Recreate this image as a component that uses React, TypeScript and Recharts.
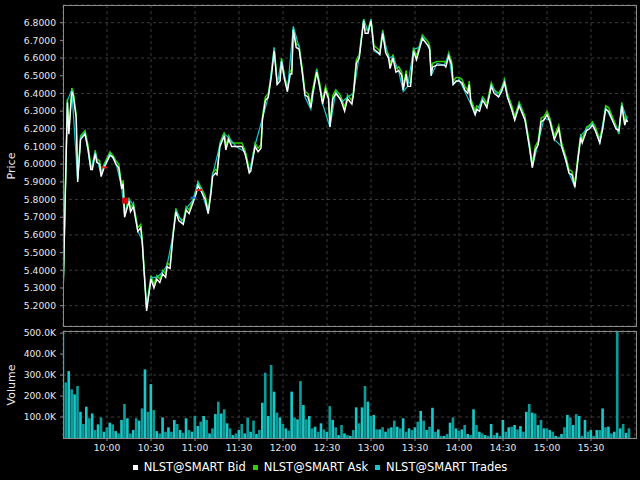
import React from "react";
import {
  ComposedChart,
  Line,
  XAxis,
  YAxis,
  CartesianGrid,
  BarChart,
  Bar,
  Cell,
  ReferenceDot,
} from "recharts";

// minutes after the 9:30 open
const quoteMinutes = [
  0, 3, 4, 6, 7, 9, 10, 12, 15, 17,
  19, 20, 22, 23, 25, 26, 28, 32, 34, 36,
  38, 40, 41, 42, 45, 46, 48, 51, 53, 54,
  57, 60, 62, 64, 66, 68, 70, 71, 73, 75,
  77, 79, 82, 84, 86, 89, 91, 92, 94, 97,
  99, 101, 102, 104, 105, 107, 110, 111, 113, 115,
  118, 122, 124, 125, 127, 128, 131, 133, 135, 136,
  138, 140, 142, 144, 146, 148, 149, 151, 153, 155,
  156, 157, 159, 161, 163, 165, 167, 169, 170, 173,
  175, 177, 179, 181, 182, 184, 186, 189, 190, 192,
  194, 197, 198, 200, 202, 203, 205, 206, 208, 210,
  211, 212, 215, 216, 218, 220, 222, 223, 225, 227,
  229, 231, 232, 234, 235, 237, 239, 241, 243, 245,
  247, 249, 250, 251, 252, 255, 258, 260, 261, 263,
  265, 266, 268, 270, 272, 274, 276, 277, 278, 281,
  282, 284, 286, 287, 289, 292, 294, 297, 299, 301,
  303, 306, 308, 311, 314, 315, 318, 320, 322, 324,
  326, 328, 330, 332, 335, 338, 340, 343, 345, 347,
  349, 351, 353, 354, 357, 359, 361, 363, 366, 368,
  370, 372, 375, 377, 379, 381, 383, 384, 385,
];

const bidPrices = [
  5.25, 6.35, 6.17, 6.41, 6.39, 6.26, 5.90, 6.14, 6.17, 6.09,
  5.97, 5.97, 6.06, 6.01, 6.00, 5.93, 5.98, 6.05, 6.04, 6.00,
  5.98, 5.86, 5.89, 5.70, 5.79, 5.73, 5.76, 5.62, 5.64, 5.56,
  5.17, 5.35, 5.30, 5.35, 5.33, 5.38, 5.36, 5.42, 5.41, 5.59,
  5.73, 5.68, 5.66, 5.74, 5.72, 5.79, 5.84, 5.88, 5.85, 5.80,
  5.72, 5.84, 5.93, 5.95, 5.94, 6.10, 6.16, 6.08, 6.14, 6.10,
  6.10, 6.10, 6.06, 6.03, 5.95, 5.96, 6.10, 6.07, 6.09, 6.25,
  6.36, 6.38, 6.49, 6.64, 6.45, 6.47, 6.58, 6.48, 6.41, 6.51,
  6.51, 6.76, 6.66, 6.65, 6.53, 6.39, 6.38, 6.32, 6.39, 6.52,
  6.44, 6.34, 6.42, 6.37, 6.21, 6.37, 6.40, 6.37, 6.35, 6.30,
  6.37, 6.34, 6.39, 6.57, 6.60, 6.67, 6.81, 6.74, 6.74, 6.81,
  6.73, 6.65, 6.63, 6.62, 6.74, 6.63, 6.60, 6.54, 6.60, 6.52,
  6.53, 6.50, 6.42, 6.51, 6.44, 6.44, 6.64, 6.59, 6.65, 6.71,
  6.69, 6.67, 6.65, 6.50, 6.55, 6.56, 6.56, 6.56, 6.55, 6.61,
  6.56, 6.45, 6.47, 6.47, 6.46, 6.42, 6.40, 6.45, 6.35, 6.28,
  6.31, 6.30, 6.36, 6.35, 6.32, 6.44, 6.40, 6.38, 6.41, 6.46,
  6.38, 6.31, 6.25, 6.33, 6.27, 6.25, 6.10, 5.98, 6.08, 6.11,
  6.24, 6.25, 6.28, 6.24, 6.14, 6.20, 6.10, 6.02, 5.95, 5.94,
  5.87, 6.02, 6.15, 6.12, 6.19, 6.20, 6.22, 6.19, 6.12, 6.20,
  6.31, 6.30, 6.24, 6.20, 6.19, 6.33, 6.22, 6.25, 6.24,
];

const askPrices = [
  5.26, 6.37, 6.19, 6.43, 6.41, 6.28, 5.92, 6.16, 6.19, 6.11,
  5.99, 5.98, 6.08, 6.03, 6.02, 5.95, 6.00, 6.07, 6.05, 6.02,
  6.00, 5.88, 5.91, 5.72, 5.81, 5.75, 5.78, 5.64, 5.66, 5.58,
  5.19, 5.37, 5.32, 5.37, 5.35, 5.40, 5.38, 5.44, 5.43, 5.61,
  5.75, 5.70, 5.68, 5.76, 5.74, 5.81, 5.86, 5.90, 5.87, 5.82,
  5.74, 5.86, 5.95, 5.97, 5.96, 6.12, 6.18, 6.10, 6.16, 6.12,
  6.12, 6.12, 6.08, 6.05, 5.97, 5.98, 6.12, 6.09, 6.11, 6.27,
  6.38, 6.40, 6.51, 6.66, 6.47, 6.49, 6.60, 6.50, 6.43, 6.53,
  6.53, 6.77, 6.68, 6.67, 6.55, 6.41, 6.40, 6.34, 6.41, 6.54,
  6.46, 6.36, 6.44, 6.39, 6.23, 6.39, 6.42, 6.39, 6.37, 6.32,
  6.39, 6.36, 6.41, 6.59, 6.62, 6.69, 6.82, 6.76, 6.76, 6.82,
  6.75, 6.67, 6.65, 6.64, 6.76, 6.65, 6.62, 6.56, 6.62, 6.54,
  6.55, 6.52, 6.44, 6.53, 6.46, 6.46, 6.66, 6.61, 6.67, 6.73,
  6.71, 6.69, 6.67, 6.52, 6.57, 6.58, 6.58, 6.58, 6.57, 6.63,
  6.58, 6.47, 6.49, 6.49, 6.48, 6.44, 6.42, 6.47, 6.37, 6.30,
  6.33, 6.32, 6.38, 6.37, 6.34, 6.46, 6.42, 6.40, 6.43, 6.48,
  6.40, 6.33, 6.27, 6.35, 6.29, 6.27, 6.12, 6.00, 6.10, 6.13,
  6.26, 6.27, 6.30, 6.26, 6.16, 6.22, 6.12, 6.04, 5.97, 5.96,
  5.89, 6.04, 6.17, 6.14, 6.21, 6.22, 6.24, 6.21, 6.14, 6.22,
  6.33, 6.32, 6.26, 6.22, 6.17, 6.35, 6.24, 6.27, 6.26,
];

const tradeMinutes = [
  0, 3, 6, 10, 12, 15, 19, 22, 26, 28,
  32, 36, 40, 42, 45, 48, 51, 54, 57, 60,
  64, 68, 71, 75, 77, 82, 84, 89, 92, 94,
  99, 102, 107, 110, 113, 118, 124, 127, 131, 136,
  140, 144, 146, 149, 153, 157, 161, 165, 169, 173,
  177, 182, 186, 190, 194, 198, 202, 205, 208, 210,
  212, 216, 218, 222, 225, 229, 232, 235, 239, 243,
  245, 250, 251, 255, 260, 263, 266, 270, 274, 278,
  281, 286, 289, 292, 297, 301, 303, 308, 311, 315,
  320, 324, 328, 332, 335, 340, 345, 349, 353, 357,
  361, 366, 370, 375, 379, 381, 385,
];

const tradePrices = [
  5.25, 6.36, 6.42, 5.91, 6.15, 6.18, 5.97, 6.07, 5.94, 5.99,
  6.06, 6.01, 5.87, 5.71, 5.80, 5.77, 5.62, 5.57, 5.18, 5.36,
  5.36, 5.39, 5.43, 5.60, 5.74, 5.66, 5.75, 5.80, 5.90, 5.86,
  5.72, 5.94, 6.11, 6.17, 6.15, 6.10, 6.07, 5.95, 6.11, 6.26,
  6.38, 6.66, 6.45, 6.59, 6.41, 6.78, 6.66, 6.38, 6.31, 6.53,
  6.34, 6.21, 6.41, 6.35, 6.38, 6.40, 6.61, 6.82, 6.75, 6.82,
  6.64, 6.62, 6.75, 6.60, 6.61, 6.52, 6.41, 6.44, 6.65, 6.66,
  6.72, 6.65, 6.50, 6.57, 6.56, 6.62, 6.45, 6.48, 6.41, 6.34,
  6.28, 6.37, 6.32, 6.45, 6.38, 6.47, 6.38, 6.25, 6.34, 6.25,
  5.98, 6.12, 6.26, 6.25, 6.14, 6.10, 5.95, 5.87, 6.16, 6.20,
  6.23, 6.12, 6.32, 6.24, 6.18, 6.34, 6.24,
];

// two-minute volume bins (minutes after the open)
const volumeMinutes = [
  0, 2, 4, 6, 8, 10, 12, 14, 16, 18,
  20, 22, 24, 26, 28, 30, 32, 34, 36, 38,
  40, 42, 44, 46, 48, 50, 52, 54, 56, 58,
  60, 62, 64, 66, 68, 70, 72, 74, 76, 78,
  80, 82, 84, 86, 88, 90, 92, 94, 96, 98,
  100, 102, 104, 106, 108, 110, 112, 114, 116, 118,
  120, 122, 124, 126, 128, 130, 132, 134, 136, 138,
  140, 142, 144, 146, 148, 150, 152, 154, 156, 158,
  160, 162, 164, 166, 168, 170, 172, 174, 176, 178,
  180, 182, 184, 186, 188, 190, 192, 194, 196, 198,
  200, 202, 204, 206, 208, 210, 212, 214, 216, 218,
  220, 222, 224, 226, 228, 230, 232, 234, 236, 238,
  240, 242, 244, 246, 248, 250, 252, 254, 256, 258,
  260, 262, 264, 266, 268, 270, 272, 274, 276, 278,
  280, 282, 284, 286, 288, 290, 292, 294, 296, 298,
  300, 302, 304, 306, 308, 310, 312, 314, 316, 318,
  320, 322, 324, 326, 328, 330, 332, 334, 336, 338,
  340, 342, 344, 346, 348, 350, 352, 354, 356, 358,
  360, 362, 364, 366, 368, 370, 372, 374, 376, 378,
  380, 382, 384, 386,
];

// thousands of shares
const volumeK = [
  510, 265, 319, 232, 208, 248, 125, 67, 149, 94,
  117, 38, 65, 98, 30, 51, 73, 65, 33, 22,
  86, 162, 94, 22, 38, 94, 83, 141, 327, 125,
  257, 133, 33, 22, 98, 30, 51, 30, 86, 67,
  38, 25, 94, 38, 30, 105, 57, 78, 105, 86,
  22, 46, 114, 173, 117, 137, 70, 46, 14, 22,
  38, 67, 22, 98, 30, 83, 19, 38, 168, 311,
  105, 348, 221, 121, 98, 67, 46, 35, 221, 98,
  89, 271, 157, 89, 105, 46, 54, 30, 70, 41,
  30, 152, 86, 51, 14, 62, 22, 14, 10, 38,
  146, 70, 146, 248, 173, 105, 110, 41, 41, 51,
  30, 46, 51, 83, 54, 46, 94, 30, 46, 38,
  51, 78, 129, 83, 38, 54, 144, 30, 41, 10,
  10, 19, 73, 98, 46, 35, 41, 62, 19, 14,
  137, 62, 30, 22, 14, 10, 67, 14, 25, 10,
  86, 30, 51, 54, 62, 41, 57, 30, 125, 162,
  121, 117, 62, 86, 46, 46, 38, 30, 10, 6,
  19, 51, 110, 98, 62, 114, 105, 10, 86, 30,
  38, 10, 38, 38, 141, 51, 54, 22, 30, 515,
  46, 67, 25, 46,
];

const priceTicks = [5.1, 5.2, 5.3, 5.4, 5.5, 5.6, 5.7, 5.8, 5.9, 6.0, 6.1, 6.2, 6.3, 6.4, 6.5, 6.6, 6.7, 6.8];
const volumeTicks = [100000, 200000, 300000, 400000, 500000];
const timeTicks = [30, 60, 90, 120, 150, 180, 210, 240, 270, 300, 330, 360];

const orderMarkers = [
  { t: 28, price: 5.982, kind: "sellDash" },
  { t: 42.4, price: 5.794, kind: "fill" },
  { t: 89, price: 5.81, kind: "buyDash" },
  { t: 93, price: 5.854, kind: "sellDash" },
];

const legendItems = [
  { name: "NLST@SMART Bid", color: "#ffffff" },
  { name: "NLST@SMART Ask", color: "#33cc00" },
  { name: "NLST@SMART Trades", color: "#19c3c8" },
];

const bidRows = quoteMinutes.map((t, i) => ({ t, p: bidPrices[i] }));
const askRows = quoteMinutes.map((t, i) => ({ t, p: askPrices[i] }));
const tradeRows = tradeMinutes.map((t, i) => ({ t, p: tradePrices[i] }));
const volumeRows = volumeMinutes.map((t, i) => ({ t, v: volumeK[i] * 1000 }));

const FONT = "'DejaVu Sans', sans-serif";
const TEXT = "#e8e8e8";
const FRAME = "#8a8a8a";
const GRID = "#3a3a3a";

const fmtTime = (m: number) => {
  const total = 570 + m;
  const h = Math.floor(total / 60);
  const mm = total % 60;
  return `${h}:${mm < 10 ? "0" + mm : mm}`;
};

const MarkerShape = (kind: string) => (props: any) => {
  const { cx, cy } = props;
  if (kind === "fill") {
    return <rect x={cx - 3} y={cy - 3} width={6} height={6} fill="#dd0000" />;
  }
  const color = kind === "buyDash" ? "#1f6fd0" : "#dd2020";
  return <rect x={cx - 3} y={cy - 1} width={6} height={2} fill={color} />;
};

export default function App() {
  const tickStyle = { fill: TEXT, fontSize: 9.2, fontFamily: FONT };
  return (
    <div
      style={{
        position: "absolute",
        left: 0,
        top: 0,
        width: 640,
        height: 480,
        background: "#000000",
        overflow: "hidden",
        fontFamily: FONT,
      }}
    >
      {/* Price panel */}
      <div style={{ position: "absolute", left: 0, top: 0 }}>
        <ComposedChart
          width={640}
          height={327}
          margin={{ top: 5, right: 5, bottom: 1, left: 0 }}
        >
          <CartesianGrid stroke={GRID} strokeDasharray="3 3" />
          <XAxis
            type="number"
            dataKey="t"
            domain={[0, 390]}
            ticks={timeTicks}
            hide
            allowDataOverflow
          />
          <YAxis
            type="number"
            domain={[5.085, 6.9]}
            ticks={priceTicks}
            allowDataOverflow
            width={63}
            axisLine={false}
            tickLine={{ stroke: FRAME }}
            tickSize={3}
            tickMargin={4}
            tick={tickStyle}
            tickFormatter={(v: number) => v.toFixed(4)}
          />
          <Line
            data={askRows}
            dataKey="p"
            type="linear"
            stroke="#2fd000"
            strokeWidth={1.5}
            dot={false}
            isAnimationActive={false}
          />
          <Line
            data={tradeRows}
            dataKey="p"
            type="linear"
            stroke="#19c3c8"
            strokeWidth={1.2}
            dot={false}
            isAnimationActive={false}
          />
          <Line
            data={bidRows}
            dataKey="p"
            type="linear"
            stroke="#ffffff"
            strokeWidth={1.4}
            dot={false}
            isAnimationActive={false}
          />
          {orderMarkers.map((m, i) => (
            <ReferenceDot
              key={i}
              x={m.t}
              y={m.price}
              r={3}
              shape={MarkerShape(m.kind)}
            />
          ))}
        </ComposedChart>
      </div>
      <div
        style={{
          position: "absolute",
          left: 63,
          top: 5,
          width: 572,
          height: 320,
          border: `1px solid ${FRAME}`,
          pointerEvents: "none",
        }}
      />

      {/* Volume panel */}
      <div style={{ position: "absolute", left: 0, top: 326 }}>
        <BarChart
          width={640}
          height={154}
          data={volumeRows}
          margin={{ top: 5, right: 5, bottom: 22, left: 0 }}
        >
          <CartesianGrid stroke={GRID} strokeDasharray="3 3" />
          <XAxis
            type="number"
            dataKey="t"
            domain={[0, 390]}
            ticks={timeTicks}
            allowDataOverflow
            height={20}
            axisLine={false}
            tickLine={{ stroke: FRAME }}
            tickSize={3}
            tickMargin={3}
            tick={tickStyle}
            tickFormatter={fmtTime}
          />
          <YAxis
            type="number"
            domain={[0, 510000]}
            ticks={volumeTicks}
            allowDataOverflow
            width={63}
            axisLine={false}
            tickLine={{ stroke: FRAME }}
            tickSize={3}
            tickMargin={4}
            tick={tickStyle}
            tickFormatter={(v: number) => (v / 1000).toFixed(1) + "K"}
          />
          <Bar dataKey="v" barSize={3} isAnimationActive={false}>
            {volumeRows.map((r, i) => (
              <Cell key={i} fill={i % 2 === 0 ? "#1ac6c6" : "#0f9a9a"} />
            ))}
          </Bar>
        </BarChart>
      </div>
      <div
        style={{
          position: "absolute",
          left: 63,
          top: 331,
          width: 572,
          height: 106,
          border: `1px solid ${FRAME}`,
          pointerEvents: "none",
        }}
      />

      {/* Axis titles */}
      <div
        style={{
          position: "absolute",
          left: 11,
          top: 166,
          transform: "translate(-50%, -50%) rotate(-90deg)",
          color: TEXT,
          fontSize: 11,
          whiteSpace: "nowrap",
        }}
      >
        Price
      </div>
      <div
        style={{
          position: "absolute",
          left: 11,
          top: 385,
          transform: "translate(-50%, -50%) rotate(-90deg)",
          color: TEXT,
          fontSize: 11,
          whiteSpace: "nowrap",
        }}
      >
        Volume
      </div>

      {/* Legend */}
      <div
        style={{
          position: "absolute",
          left: 0,
          top: 459,
          width: 640,
          display: "flex",
          justifyContent: "center",
          alignItems: "center",
          color: "#ffffff",
          fontSize: 11.5,
          lineHeight: "16px",
        }}
      >
        {legendItems.map((it, i) => (
          <div
            key={i}
            style={{ display: "flex", alignItems: "center", marginLeft: i === 0 ? 0 : 7 }}
          >
            <span
              style={{
                display: "inline-block",
                width: 5,
                height: 5,
                background: it.color,
                marginRight: 6,
              }}
            />
            <span>{it.name}</span>
          </div>
        ))}
      </div>
    </div>
  );
}
